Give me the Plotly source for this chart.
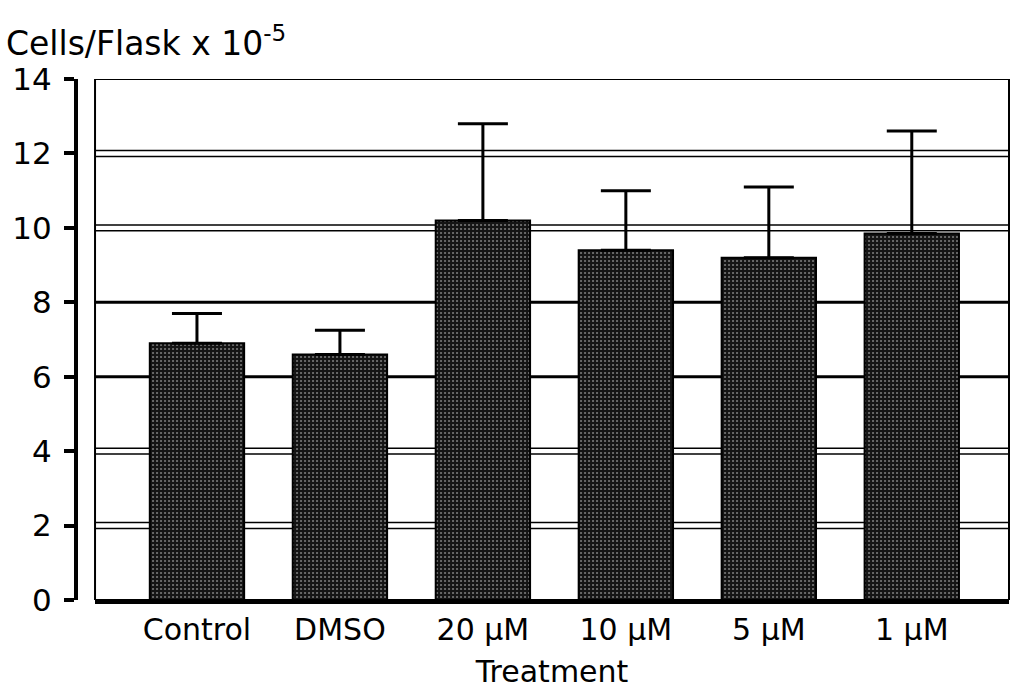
import plotly.graph_objects as go

categories = ["Control", "DMSO", "20 µM", "10 µM", "5 µM", "1 µM"]
means = [6.9, 6.6, 10.2, 9.4, 9.2, 9.85]
err_up = [0.8, 0.65, 2.6, 1.6, 1.9, 2.75]
y_ticks = [0, 2, 4, 6, 8, 10, 12, 14]
double_grid = [2, 4, 10, 12]
single_grid = [6, 8]

FONT = "DejaVu Sans"

fig = go.Figure()
fig.add_trace(go.Bar(
    x=list(range(len(categories))),
    y=means,
    width=0.66,
    marker=dict(
        color="#1a1a1a",
        line=dict(color="#000000", width=2),
        pattern=dict(shape=".", fgcolor="#7a7a7a", bgcolor="#141414",
                     size=4, solidity=0.22, fillmode="replace"),
    ),
    error_y=dict(type="data", symmetric=False, array=err_up,
                 arrayminus=[0] * len(err_up), color="#000000",
                 thickness=3, width=25),
    showlegend=False,
))

shapes = []
for g in double_grid:
    for off in (-0.08, 0.08):
        shapes.append(dict(type="line", xref="x domain", yref="y", x0=0, x1=1,
                           y0=g + off, y1=g + off, layer="below",
                           line=dict(color="#000000", width=1.5)))
for g in single_grid:
    shapes.append(dict(type="line", xref="x domain", yref="y", x0=0, x1=1,
                       y0=g, y1=g, layer="below",
                       line=dict(color="#000000", width=3)))
shapes.append(dict(type="rect", xref="x domain", yref="y", x0=0, x1=1,
                   y0=0, y1=14, layer="below",
                   line=dict(color="#000000", width=2)))

fig.update_layout(
    width=1011, height=693,
    margin=dict(l=76, r=2, t=79, b=93),
    paper_bgcolor="white", plot_bgcolor="white",
    font=dict(family=FONT, color="#000000", size=30),
    shapes=shapes,
    xaxis=dict(
        domain=[0.0204, 1], range=[-0.713, 5.68], automargin=False,
        tickmode="array", tickvals=list(range(len(categories))),
        ticktext=categories, showgrid=False, zeroline=False,
        showline=True, linecolor="#000000", linewidth=4,
        ticks="", tickfont=dict(size=30, family=FONT), ticklabelstandoff=0,
        title=dict(text="Treatment", font=dict(size=30, family=FONT), standoff=16),
    ),
    yaxis=dict(
        anchor="free", position=0, range=[0, 14], automargin=False,
        tickmode="array", tickvals=y_ticks, ticktext=[str(v) for v in y_ticks],
        showgrid=False, zeroline=False,
        showline=True, linecolor="#000000", linewidth=4,
        ticks="outside", ticklen=10, tickwidth=4, tickcolor="#000000",
        tickfont=dict(size=31, family=FONT), ticklabelstandoff=6,
    ),
    annotations=[dict(
        text="Cells/Flask x 10<sup>-5</sup>", xref="paper", yref="paper",
        x=-0.077, y=1.0, xanchor="left", yanchor="bottom", showarrow=False,
        font=dict(size=33, family=FONT, color="#000000"),
        yshift=14,
    )],
)

fig.write_html(
    "out.html",
    config={"displayModeBar": False},
    post_script="document.body.style.margin='0';document.body.style.padding='0';",
)
